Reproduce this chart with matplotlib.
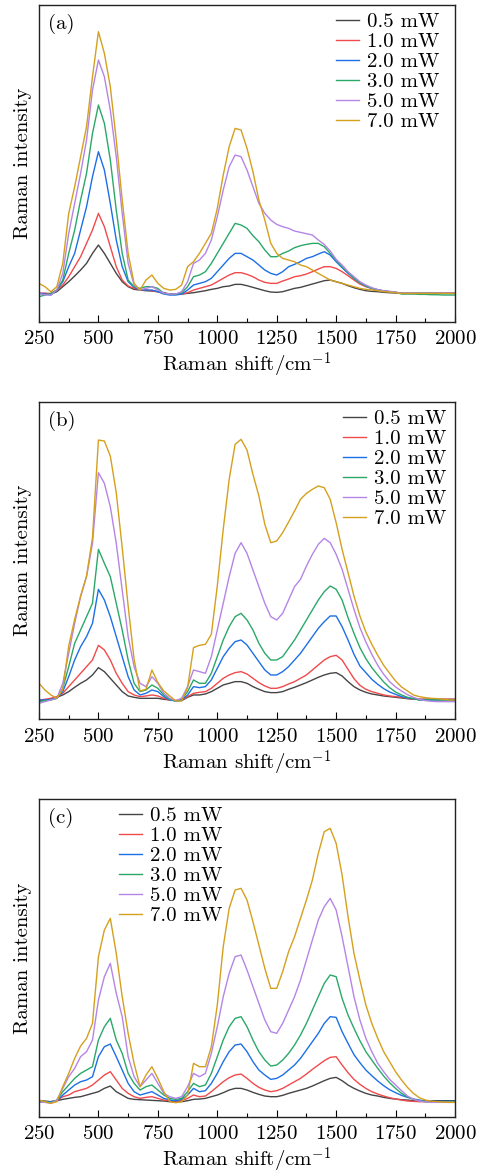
import numpy as np
import matplotlib
matplotlib.use("Agg")
import matplotlib.pyplot as plt
from matplotlib.ticker import MultipleLocator

plt.rcParams['font.family'] = 'cmr10'
plt.rcParams['mathtext.fontset'] = 'cm'
plt.rcParams['axes.unicode_minus'] = False
plt.rcParams['axes.formatter.use_mathtext'] = True

# Raman shift sample positions (cm^-1)
shift = np.arange(250, 2001, 25)

labels = ["0.5 mW", "1.0 mW", "2.0 mW", "3.0 mW", "5.0 mW", "7.0 mW"]
colors = ["#454545", "#f04a4c", "#1c6fe6", "#2aa868", "#b585e6", "#d4a01e"]

# ---------- panel (a) ----------
a_05 = [85,85,83,90,105,120,137,155,175,205,
        230,205,175,145,120,105,97,95,93,92,
        90,87,83,83,83,85,87,90,93,97,
        100,105,107,112,112,108,103,98,93,89,
        88,90,95,100,103,108,113,118,123,125,
        120,115,108,102,97,93,91,90,88,87,
        86,85,85,85,85,85,85,85,85,85,
        85]
a_10 = [85,85,85,95,110,135,165,195,235,275,
        325,285,225,165,125,107,100,97,95,93,
        90,85,83,83,83,87,95,100,105,110,
        120,130,140,147,147,142,135,125,118,115,
        115,122,128,135,138,143,150,158,165,165,
        160,150,138,125,113,105,100,95,92,90,
        88,85,85,85,85,85,85,85,85,85,
        85]
a_20 = [85,83,80,95,120,165,205,275,345,435,
        510,455,355,245,165,120,103,97,95,95,
        90,83,80,80,83,95,110,115,120,130,
        150,170,190,205,205,195,185,170,155,145,
        140,150,165,172,180,190,195,203,210,200,
        180,162,145,130,117,107,100,96,92,90,
        88,85,85,85,85,85,85,85,85,85,
        85]
a_30 = [75,80,85,95,125,205,275,365,445,565,
        650,595,485,335,205,125,105,100,105,105,
        100,85,83,83,87,105,135,140,150,175,
        205,235,265,295,290,280,258,240,215,195,
        195,205,212,222,228,232,235,235,225,205,
        185,165,148,130,117,107,100,96,92,90,
        88,83,83,83,82,82,81,81,80,80,
        80]
a_50 = [85,80,80,95,145,265,355,445,545,695,
        785,735,635,495,325,175,110,95,100,105,
        95,85,83,83,90,120,175,185,205,245,
        315,395,465,500,495,455,405,355,325,305,
        292,285,280,272,268,264,260,245,232,212,
        187,170,150,135,120,110,102,96,93,91,
        89,85,85,85,85,85,85,85,85,85,
        85]
a_70 = [115,105,90,105,175,325,405,495,585,735,
        870,805,705,545,365,205,115,95,125,140,
        115,100,95,97,110,165,180,205,235,265,
        340,440,525,580,575,520,450,365,305,235,
        205,190,185,180,170,165,155,145,135,125,
        120,115,110,105,100,97,95,93,90,89,
        87,85,85,85,85,85,85,85,85,85,
        85]

# ---------- panel (b) ----------
b_05 = [56,56,60,66,73,83,96,108,118,133,
        155,143,123,103,83,70,66,63,63,63,
        63,60,58,56,56,66,73,73,76,83,
        93,103,108,113,113,108,98,90,83,80,
        80,83,90,96,103,110,118,126,133,138,
        140,130,113,98,88,81,76,73,70,68,
        66,64,62,60,60,60,60,60,60,60,
        60]
b_10 = [58,60,63,68,78,98,118,138,158,178,
        222,208,178,138,108,83,73,68,70,73,
        70,63,58,56,58,68,78,81,83,93,
        108,123,133,140,143,136,123,110,100,93,
        93,98,106,113,123,133,148,163,178,188,
        192,178,150,122,102,90,83,78,73,70,
        68,66,63,60,60,60,60,60,60,60,
        60]
b_20 = [58,58,60,63,83,128,178,218,248,288,
        390,358,308,248,188,128,88,73,78,88,
        83,68,58,55,58,73,98,95,98,118,
        153,188,213,233,238,223,198,173,148,133,
        133,143,158,178,198,223,248,273,293,310,
        310,278,238,195,160,140,120,105,92,82,
        75,68,64,62,58,58,58,58,58,58,
        58]
b_30 = [53,56,58,63,93,158,228,268,308,348,
        510,468,428,348,268,178,108,83,88,103,
        93,73,60,56,60,83,118,108,108,138,
        188,238,278,308,318,298,268,228,198,178,
        178,188,213,238,268,298,328,358,383,400,
        390,358,305,258,215,182,155,133,112,95,
        82,73,66,62,58,58,58,58,58,58,
        58]
b_50 = [48,53,58,63,108,198,288,368,428,528,
        740,708,638,528,388,248,158,108,98,128,
        108,78,63,56,63,98,148,143,138,188,
        268,348,428,498,530,498,448,398,348,308,
        298,318,358,398,420,460,495,525,543,530,
        495,450,390,330,275,232,195,162,135,113,
        97,85,74,66,60,56,54,53,53,53,
        53]
b_70 = [108,88,73,63,90,220,300,370,430,545,
        838,835,790,680,515,340,180,85,90,148,
        110,85,70,55,55,95,215,222,225,255,
        400,570,720,825,840,808,735,670,585,530,
        535,560,592,625,660,678,690,700,695,660,
        590,510,440,370,310,262,225,192,162,138,
        115,97,85,73,68,65,63,62,60,58,
        58]

# ---------- panel (c) ----------
c_05 = [48,47,45,48,52,55,58,60,65,70,
        75,85,92,75,65,55,52,51,50,49,
        48,47,45,45,45,48,52,53,55,60,
        65,72,80,85,85,80,73,67,62,60,
        60,64,70,75,80,85,92,100,108,115,
        118,108,95,85,77,70,65,62,58,55,
        53,51,50,48,48,48,48,48,48,48,
        48]
c_10 = [45,45,45,48,60,65,75,80,85,95,
        110,125,135,110,85,70,60,55,58,60,
        55,50,48,47,48,55,65,60,62,75,
        90,105,117,125,128,115,100,88,80,75,
        78,85,95,105,115,128,142,155,168,178,
        180,155,132,112,97,85,75,68,62,57,
        53,50,47,46,45,45,45,45,45,45,
        45]
c_20 = [45,45,45,48,65,80,95,105,110,120,
        180,210,218,180,140,100,75,65,70,75,
        65,55,50,48,52,65,85,75,78,100,
        130,165,195,215,218,195,165,140,125,112,
        115,125,140,155,175,200,225,250,280,300,
        298,255,220,186,162,140,123,107,93,81,
        72,64,58,53,50,46,46,46,46,46,
        46]
c_30 = [45,45,42,50,75,95,115,130,140,150,
        230,270,295,230,190,130,100,80,90,95,
        80,65,55,52,55,75,100,90,95,130,
        180,230,270,295,300,270,230,195,170,152,
        155,170,190,215,245,280,320,360,400,425,
        420,355,305,265,228,195,170,145,122,102,
        85,70,60,52,48,45,45,45,45,45,
        45]
c_50 = [45,43,40,50,85,120,145,180,195,230,
        350,420,460,370,300,180,120,90,110,130,
        100,70,60,55,60,90,130,120,130,190,
        270,360,430,480,485,440,390,340,290,255,
        250,280,320,360,410,470,530,590,630,655,
        620,540,450,360,290,235,195,160,135,112,
        95,78,62,52,47,45,43,43,43,43,
        43]
c_70 = [50,45,40,45,90,130,175,212,235,280,
        480,560,595,490,360,250,160,90,125,150,
        115,75,45,42,45,65,160,150,150,210,
        335,510,625,680,685,650,585,515,445,385,
        385,435,495,540,595,650,710,790,855,865,
        820,725,600,490,410,335,280,235,195,165,
        135,110,88,70,57,50,47,45,44,43,
        43]

panels = [
    ("(a)", [a_05, a_10, a_20, a_30, a_50, a_70], 951, (0.714, 0.975)),
    ("(b)", [b_05, b_10, b_20, b_30, b_50, b_70], 953, (0.731, 0.975)),
    ("(c)", [c_05, c_10, c_20, c_30, c_50, c_70], 953, (0.192, 0.976)),
]

W, H = 481, 1173
fig = plt.figure(figsize=(W / 100, H / 100), dpi=100)
rects = [
    (39 / W, 1 - 321.7 / H, 416 / W, 317.0 / H),
    (39 / W, 1 - 719.3 / H, 416 / W, 317.6 / H),
    (39 / W, 1 - 1116.7 / H, 416 / W, 317.7 / H),
]

fs = 15
for (tag, series, ytop, legpos), rect in zip(panels, rects):
    ax = fig.add_axes(rect)
    for ys, lab, col in zip(series, labels, colors):
        ax.plot(shift, ys, color=col, lw=1.0, label=lab)
    ax.set_xlim(250, 2000)
    ax.set_ylim(0, ytop)
    ax.xaxis.set_major_locator(MultipleLocator(250))
    ax.xaxis.set_minor_locator(MultipleLocator(125))
    ax.tick_params(axis='x', which='major', direction='in', length=5,
                   width=0.8, labelsize=fs, pad=6, top=False)
    ax.tick_params(axis='x', which='minor', direction='in', length=3,
                   width=0.8, top=False)
    ax.set_yticks([])
    for sp in ax.spines.values():
        sp.set_linewidth(1.0)
        sp.set_color('#222222')
    ax.set_xlabel(r'Raman shift/cm$^{-1}$', fontsize=fs, labelpad=2)
    ax.set_ylabel('Raman intensity', fontsize=fs, labelpad=5)
    ax.text(0.022, 0.94, tag, transform=ax.transAxes, fontsize=fs,
            ha='left', va='center')
    ax.legend(loc='upper left', bbox_to_anchor=legpos, frameon=False,
              fontsize=fs, handlelength=1.1, handletextpad=0.4,
              labelspacing=0.07, borderpad=0, borderaxespad=0)

fig.savefig("out.png", dpi=100)
